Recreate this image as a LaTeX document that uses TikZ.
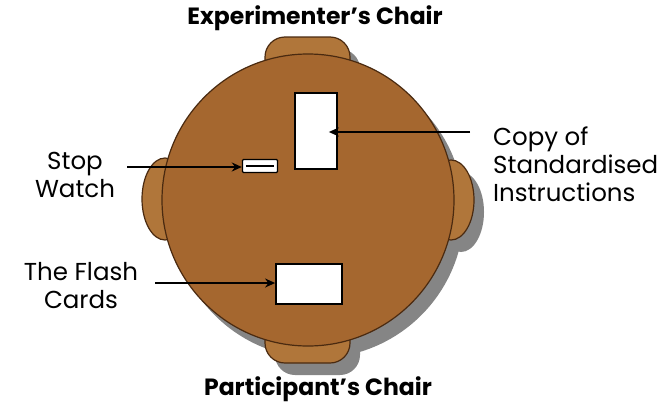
\documentclass[tikz,border=0pt]{standalone}
\usepackage{fontspec}
\setmainfont{Poppins}
\usetikzlibrary{arrows.meta}

\definecolor{tablebrown}{HTML}{A5672F}
\definecolor{chairbrown}{HTML}{B0763A}
\definecolor{rimbrown}{HTML}{4A2A10}
\definecolor{shadowgray}{HTML}{858585}

\tikzset{
  chair/.style={fill=chairbrown, draw=rimbrown, line width=1.2pt},
  desk/.style={fill=tablebrown, draw=rimbrown, line width=1.2pt},
  card/.style={draw=black, fill=white, line width=1.8pt, inner sep=0pt},
  label/.style={font=\fontsize{24.5}{28}\selectfont, inner sep=0pt},
  title/.style={font=\fontsize{23.5}{26}\selectfont\bfseries, inner sep=0pt},
  pointer/.style={line width=1.5pt, -{Stealth[length=10pt, width=9pt]}}
}

\begin{document}
\begin{tikzpicture}[x=1pt, y=-1pt]
    \useasboundingbox (0,0) rectangle (666,407);

    % schatten
    \begin{scope}[shift={(10,12)}, fill=shadowgray]
      \fill[rounded corners=20pt] (265,37) rectangle (350,80);
      \fill[rounded corners=20pt] (265,320) rectangle (350,363);
      \fill (451,200) ellipse (23 and 40);
      \fill (308,200) circle (146);
    \end{scope}

    % stoelen
    \draw[chair, rounded corners=20pt] (265,37) rectangle (350,80);
    \draw[chair, rounded corners=20pt] (265,320) rectangle (350,363);
    \draw[chair] (165,199) ellipse (23 and 41);
    \draw[chair] (451,200) ellipse (23 and 40);

    % tafel
    \draw[desk] (308,200) circle (146);

    % voorwerpen op tafel
    \node[card, minimum width=42pt, minimum height=76pt] (instr) at (316,131) {};
    \node[card, minimum width=66pt, minimum height=40pt] (flash) at (309,284) {};
    \node[card, line width=1.4pt, rounded corners=1pt, minimum width=35pt, minimum height=13pt] (watch) at (260,166) {};
    \draw[line width=2.2pt] ([xshift=4pt]watch.west) -- ([xshift=-4pt]watch.east);

    % teksten
    \node[title] (top) at (315,18) {Experimenter’s Chair};
    \node[title] (bottom) at (318,389) {Participant’s Chair};
    \node[label, anchor=west, align=left] (copy) at (493,164) {Copy of\\Standardised\\Instructions};
    \node[label, align=center] (stop) at (75,175) {Stop\\Watch};
    \node[label, align=center] (cards) at (81,286) {The Flash\\Cards};

    % pijlen
    \coordinate (copytail) at (470,132);
    \coordinate (stoptail) at (127,167);
    \coordinate (cardstail) at (155,283);
    \draw[pointer] (copytail) -- ([xshift=-9pt]instr.east |- copytail);
    \draw[pointer] (stoptail) -- (watch.west |- stoptail);
    \draw[pointer] (cardstail) -- (flash.west |- cardstail);
\end{tikzpicture}
\end{document}
